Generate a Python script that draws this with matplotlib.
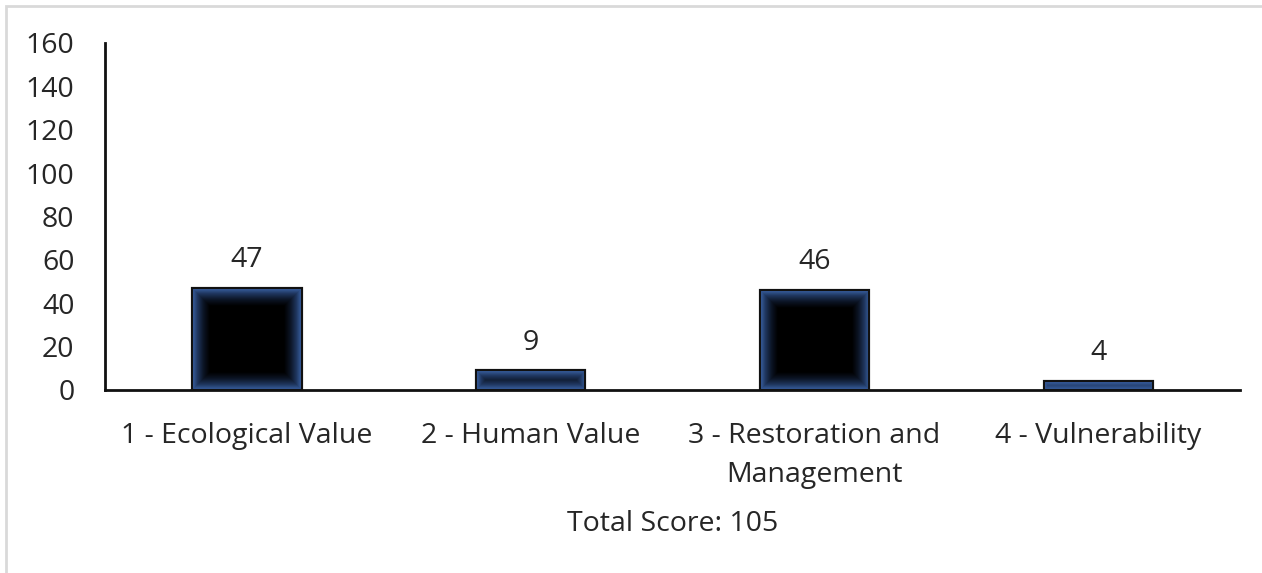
import matplotlib
matplotlib.use("Agg")
import matplotlib.pyplot as plt
import numpy as np
from matplotlib.colors import LinearSegmentedColormap
from matplotlib.patches import Rectangle

CATEGORIES = ["1 - Ecological Value", "2 - Human Value", "3 - Restoration and\nManagement", "4 - Vulnerability"]
SCORES = [47, 9, 46, 4]
Y_TICKS = [0, 20, 40, 60, 80, 100, 120, 140, 160]
X_LABEL = "Total Score: 105"

plt.rcParams["font.family"] = ["Open Sans", "DejaVu Sans"]
FS = 20.5

fig = plt.figure(figsize=(12.62, 5.73), dpi=100)
ax = fig.add_axes([0.0832, 0.3194, 0.8994, 0.6056])

x = np.arange(len(CATEGORIES))
bars = ax.bar(x, SCORES, width=0.385, color="#2f5597", edgecolor="#111111", linewidth=1.5, zorder=2)

ax.set_xlim(-0.5, len(CATEGORIES) - 0.5)
ax.set_ylim(0, 160)
ax.set_yticks(Y_TICKS)
ax.set_xticks(x)
ax.set_xticklabels(CATEGORIES, fontsize=FS, color="#262626", linespacing=1.55)
ax.tick_params(axis="y", length=0, pad=22, labelsize=FS, labelcolor="#262626")
ax.tick_params(axis="x", length=0, pad=23)
ax.set_xlabel(X_LABEL, fontsize=FS, color="#262626", labelpad=15)

for side in ("top", "right"):
    ax.spines[side].set_visible(False)
for side in ("left", "bottom"):
    ax.spines[side].set_linewidth(2)
    ax.spines[side].set_color("#111111")

# soft blue glow fading into a black centre
glow = LinearSegmentedColormap.from_list("glow", ["#000000", "#0c1526", "#1f365e", "#3b64a8"])
fig.canvas.draw()
for bar in bars:
    x0, y0 = bar.get_x(), bar.get_y()
    w, h = bar.get_width(), bar.get_height()
    (px0, py0), (px1, py1) = ax.transData.transform([(x0, y0), (x0 + w, y0 + h)])
    nx, ny = max(int(px1 - px0), 2), max(int(py1 - py0), 2)
    gx = np.minimum(np.arange(nx) + 0.5, nx - np.arange(nx) - 0.5)
    gy = np.minimum(np.arange(ny) + 0.5, ny - np.arange(ny) - 0.5)
    d = np.minimum(gx[None, :], gy[:, None])
    val = np.clip(1 - d / 18.0, 0, 1) ** 1.1
    im = ax.imshow(val, cmap=glow, vmin=0, vmax=1, extent=(x0, x0 + w, y0, y0 + h),
                   aspect="auto", interpolation="bilinear", zorder=2.5)
    im.set_clip_path(bar)
    edge = Rectangle((x0, y0), w, h, fill=False, edgecolor="#111111", linewidth=1.5, zorder=3)
    ax.add_patch(edge)
    ax.annotate(f"{bar.get_height():g}", (x0 + w / 2, y0 + h), xytext=(0, 10),
                textcoords="offset points", ha="center", va="bottom",
                fontsize=FS, color="#262626")

ax.set_xlim(-0.5, len(CATEGORIES) - 0.5)
ax.set_ylim(0, 160)

fig.patches.append(Rectangle((6 / 1262, -0.1), 1.2, 1.1 - 6 / 573, transform=fig.transFigure,
                             fill=False, edgecolor="#d9d9d9", linewidth=2))

fig.savefig("out.png", dpi=100)
